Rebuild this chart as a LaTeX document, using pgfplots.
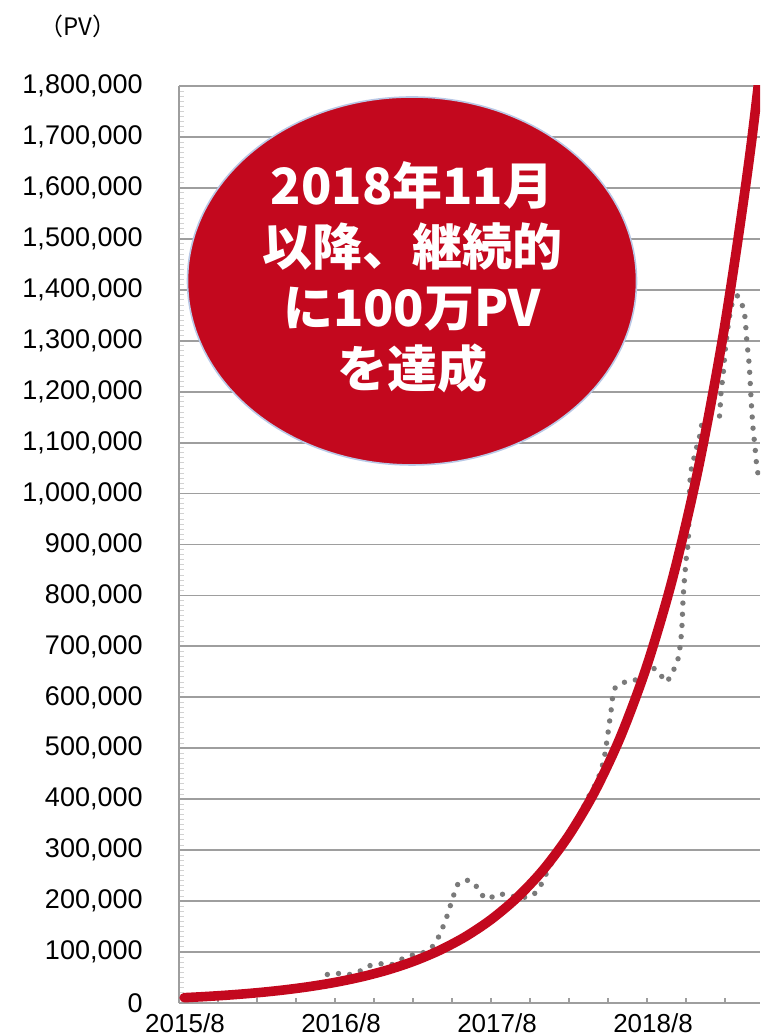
\documentclass[border=0pt]{standalone}
\usepackage{fontspec}
\setmainfont{Liberation Sans}
\newfontfamily\jpfont{Noto Sans CJK JP}
\usepackage{pgfplots}
\pgfplotsset{compat=1.18}
\definecolor{trendred}{RGB}{195,8,30}
\definecolor{dotgray}{RGB}{122,122,122}
\definecolor{gridgray}{RGB}{158,158,158}
\definecolor{ellborder}{RGB}{185,200,230}
\begin{document}
\begin{tikzpicture}
\begin{axis}[
  at={(0,0)}, anchor=south west,
  scale only axis, width=290.5pt, height=458.5pt,
  xmin=0, xmax=44.69, ymin=0, ymax=1800000,
  axis lines*=left,
  axis line style={-, draw=gridgray, line width=0.8pt},
  ytick={0,100000,200000,300000,400000,500000,600000,700000,800000,900000,1000000,1100000,1200000,1300000,1400000,1500000,1600000,1700000,1800000},
  minor y tick num=9,
  ymajorgrids,
  major grid style={draw=gridgray, line width=0.9pt},
  xtick={0,3,6,9,12,15,18,21,24,27,30,33,36,39,42},
  xticklabels={2015/8,,,,2016/8,,,,2017/8,,,,2018/8,,},
  tick align=inside,
  major tick length=2.5pt, minor tick length=2.5pt,
  major tick style={draw=gridgray, line width=0.6pt},
  minor tick style={draw=gray!35, line width=0.5pt},
  scaled y ticks=false,
  yticklabel style={/pgf/number format/fixed, /pgf/number format/1000 sep={,}, /pgf/number format/assume math mode=true},
  yticklabel style={anchor=east, inner sep=0pt, xshift=-18pt, font=\fontsize{13.5}{16}\selectfont},
  xticklabel style={anchor=north, inner sep=0pt, yshift=-5pt, xshift=3pt, font=\fontsize{13}{15}\selectfont},
]
\addplot[dotgray, line width=2.7pt, line cap=round, dash pattern=on 0pt off 5.6pt, smooth] table {
x y
11.41 56000
12.21 58000
13.10 56000
13.87 62000
14.64 73000
15.52 77000
16.33 75000
17.13 86000
17.95 94000
18.8 99000
19.4 108000
19.87 125000
20.23 145000
20.54 165000
20.82 187000
21.10 209000
21.38 231000
21.98 241000
22.67 236000
23.15 217000
23.72 204000
24.52 214000
25.38 211000
26.1 208000
27.02 209000
27.64 223000
28.05 243000
28.6 272000
29.5 310000
30.5 350000
31.3 395000
32.0 428000
32.4 452000
32.72 483000
32.98 527000
33.23 573000
33.48 616000
34.18 629000
35.02 633000
35.7 645000
36.44 657000
36.95 648000
37.46 630000
37.9 647000
38.28 667000
38.48 688000
38.67 733000
38.79 801000
39.0 868000
39.18 913000
39.31 1027000
39.62 1071000
40.08 1116000
40.25 1137000
40.9 1147000
41.54 1149000
41.67 1193000
41.87 1238000
42.02 1283000
42.3 1340000
42.6 1378000
42.98 1388000
43.36 1367000
43.54 1345000
43.67 1301000
43.85 1255000
43.95 1211000
44.05 1165000
44.18 1120000
44.28 1098000
44.44 1053000
44.52 1041000
44.75 1020000
};
\addplot[trendred, line width=4.8pt, line cap=round, smooth] table {
x y
0.4 10477
2 12624
4 15936
6 20117
8 25396
10 32059
12 40471
14 51090
16 64496
18 81418
20 102779
22 129746
24 163789
26 206764
28 261017
30 329505
32 415957
34 525095
36 662880
38 836802
40 1056371
42 1333557
44 1683462
46 2125188
};
\end{axis}
\filldraw[fill=trendred, draw=ellborder, line width=0.8pt] (116.5pt,361pt) ellipse [x radius=112.25pt, y radius=92pt];
\node[align=center, text=white, font=\jpfont\bfseries\fontsize{25}{30.5}\selectfont] at (116.5pt,363pt) {2018年11月\\以降、継続的\\に100万PV\\を達成};
\node[font=\jpfont\fontsize{12}{14}\selectfont] at (-50.5pt,488.5pt) {（PV）};
\pgfresetboundingbox
\path[use as bounding box] (-89.5pt,-16.5pt) rectangle (290.5pt,501.5pt);
\end{tikzpicture}
\end{document}
